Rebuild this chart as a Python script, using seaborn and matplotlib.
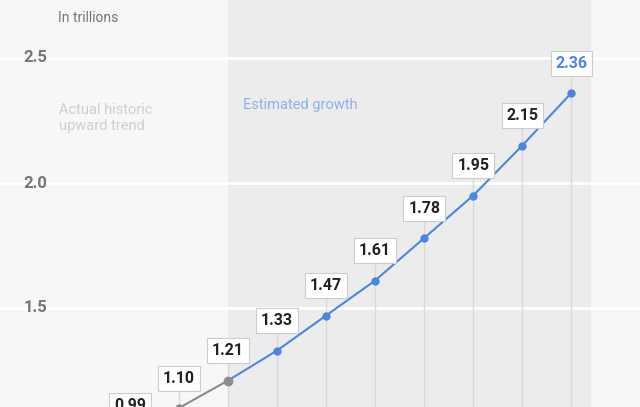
import matplotlib
matplotlib.use("Agg")
import matplotlib.pyplot as plt
import seaborn as sns
import pandas as pd

# Values (the earlier years fall below the visible area)
steps = [0, 1, 2, 3, 4, 5, 6, 7, 8, 9]
values = [0.99, 1.10, 1.21, 1.33, 1.47, 1.61, 1.78, 1.95, 2.15, 2.36]
n_actual = 3  # the first three points are actual values, the rest are estimates
y_ticks = [1.5, 2.0, 2.5]

df = pd.DataFrame({"step": steps, "value": values})
actual = df.iloc[:n_actual]
est = df.iloc[n_actual - 1:]

fig = plt.figure(figsize=(6.4, 4.07), dpi=100)
fig.patch.set_facecolor("white")
ax = fig.add_axes([0, 0, 1, 1])
ax.set_facecolor("#f7f7f7")
ax.set_xlim(-2.65, 10.4)
ax.set_ylim(1.104, 2.732)

# shaded region for estimates
ax.axvspan(2, 9.4, color="#ececec", zorder=0, lw=0)

for t in y_ticks:
    ax.axhline(t, color="white", lw=2, zorder=1)
    ax.text(-1.69, t, f"{t:.1f}", ha="right", va="center", fontsize=12,
            color="#757575", fontweight="bold", fontfamily="Roboto")
ax.text(-1.47, 2.66, "In trillions", ha="left", va="center", fontsize=10,
        color="#757575", fontfamily="Roboto")

# vertical guide lines through each point
for s, v in zip(steps, values):
    ax.plot([s, s], [1.0, v + 0.12], color="#d9d9d9", lw=1, zorder=1, clip_on=True)

sns.lineplot(data=actual, x="step", y="value", ax=ax, color="#8c8c8c", lw=1.5,
             marker="o", markersize=6, markeredgewidth=0, zorder=3)
sns.lineplot(data=est.iloc[1:], x="step", y="value", ax=ax, color="#4a86e0", lw=1.5,
             marker="o", markersize=6, markeredgewidth=0, zorder=3)
ax.plot(est["step"].iloc[:2], est["value"].iloc[:2], color="#4a86e0", lw=1.5, zorder=2)
ax.plot(est["step"].iloc[0], est["value"].iloc[0], "o", color="#8c8c8c", ms=6, zorder=4)

for i, (s, v) in enumerate(zip(steps, values)):
    last = i == len(values) - 1
    ax.annotate(f"{v:.2f}", xy=(s, v), xytext=(0, 16), textcoords="offset points",
                ha="center", va="bottom", fontsize=11.5, fontweight="bold",
                fontfamily="Roboto", color="#4a86e0" if last else "#222222",
                bbox=dict(boxstyle="square,pad=0.3", fc="white", ec="#cccccc", lw=0.8),
                annotation_clip=False, zorder=5)

ax.text(-1.45, 2.26, "Actual historic\nupward trend", fontsize=10.5, color="#cfcfcf",
        va="center", ha="left", fontfamily="Roboto", linespacing=1.2)
ax.text(2.3, 2.31, "Estimated growth", fontsize=10.5, color="#8fb0e8",
        va="center", ha="left", fontfamily="Roboto")

ax.set_xlabel("")
ax.set_ylabel("")
ax.set_xticks([])
ax.set_yticks([])
sns.despine(ax=ax, left=True, bottom=True)
fig.savefig("out.png", dpi=100)
